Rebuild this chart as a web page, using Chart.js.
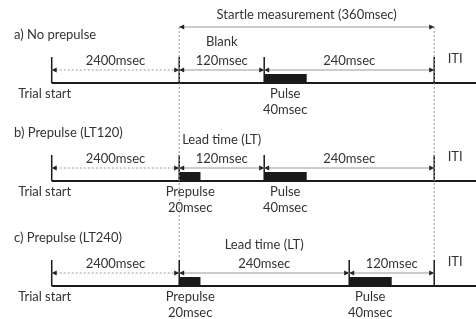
<!DOCTYPE html>
<html>
<head>
<meta charset="utf-8">
<script src="https://cdn.jsdelivr.net/npm/chart.js@4"></script>
<style>
html,body{margin:0;padding:0;background:#fff;}
#c{display:block;}
</style>
</head>
<body>
<canvas id="c" width="476" height="319"></canvas>
<script>
// ---- schematic data (x in diagram msec relative to stimulus window onset; pre-period is compressed) ----
const rowTitles = ['a) No prepulse', 'b) Prepulse (LT120)', 'c) Prepulse (LT240)'];
const rowBase = [83, 181, 286];              // vertical position of each timeline (schematic units)
const trialStart = -180;                      // drawn position of trial start (2400 msec, compressed)
const preLabel = ['2400msec', '2400msec', '2400msec'];
const prepulseOnset = [null, 0, 0];
const prepulseDrawnWidth = 30;
const prepulseText = ['', 'Prepulse', 'Prepulse'];
const prepulseDur = ['', '20msec', '20msec'];
const pulseOnset = [120, 120, 240];
const pulseDrawnWidth = 60;
const pulseText = ['Pulse', 'Pulse', 'Pulse'];
const pulseDur = ['40msec', '40msec', '40msec'];
const measureEnd = 360;
const firstGapLabel = ['120msec', '120msec', '240msec'];
const secondGapLabel = ['240msec', '240msec', '120msec'];
const upperLabel = ['Blank', 'Lead time (LT)', 'Lead time (LT)'];
const measureLabel = 'Startle measurement (360msec)';
const itiLabel = 'ITI';
const startLabel = 'Trial start';

const X_MIN = -253, X_MAX = 419;
const TOP_ARROW_Y = 27, GUIDE_END_Y = 259;

// ---- build datasets from the arrays ----
function segs(list){ // list of [[x1,y1],[x2,y2]] -> points separated by nulls
  const out = [];
  list.forEach((s,i)=>{ if(i) out.push({x:s[0][0], y:null}); out.push({x:s[0][0],y:s[0][1]}); out.push({x:s[1][0],y:s[1][1]}); });
  return out;
}
const baseSegs=[], tickSegs=[], barSegs=[], shaftSegs=[], dotSegs=[], guideSegs=[];
rowBase.forEach((b,r)=>{
  baseSegs.push([[trialStart,b],[X_MAX+5,b]]);
  const ticks=[trialStart,0,pulseOnset[r],measureEnd];
  ticks.forEach(t=>tickSegs.push([[t,b-26],[t,b]]));
  if(prepulseOnset[r]!==null) barSegs.push([[prepulseOnset[r],b-4.5],[prepulseOnset[r]+prepulseDrawnWidth,b-4.5]]);
  barSegs.push([[pulseOnset[r],b-4.5],[pulseOnset[r]+pulseDrawnWidth,b-4.5]]);
  dotSegs.push([[trialStart,b-13],[0,b-13]]);
  shaftSegs.push([[0,b-13],[pulseOnset[r],b-13]]);
  shaftSegs.push([[pulseOnset[r],b-13],[measureEnd,b-13]]);
});
shaftSegs.push([[0,TOP_ARROW_Y],[measureEnd,TOP_ARROW_Y]]);
guideSegs.push([[0,TOP_ARROW_Y],[0,GUIDE_END_Y]]);
guideSegs.push([[measureEnd,TOP_ARROW_Y],[measureEnd,GUIDE_END_Y]]);

function ds(data,color,width,dash,cap){
  return {data:segs(data),showLine:true,spanGaps:false,borderColor:color,borderWidth:width,
    borderDash:dash||[],borderCapStyle:cap||'butt',pointRadius:0,pointHoverRadius:0,tension:0,fill:false,clip:false};
}

const textPlugin = {
  id:'schematic',
  afterDatasetsDraw(chart){
    const ctx=chart.ctx, xs=chart.scales.x, ys=chart.scales.y;
    const X=v=>xs.getPixelForValue(v), Y=v=>ys.getPixelForValue(v);
    ctx.save();
    // arrowheads
    ctx.fillStyle='#222';
    function head(x,y,dir){ // dir +1 points right, -1 left
      const px=X(x), py=Y(y);
      ctx.beginPath(); ctx.moveTo(px,py); ctx.lineTo(px-dir*5,py-2.5); ctx.lineTo(px-dir*5,py+2.5); ctx.closePath(); ctx.fill();
    }
    head(0,TOP_ARROW_Y,-1); head(measureEnd,TOP_ARROW_Y,1);
    rowBase.forEach((b,r)=>{
      const ay=b-13;
      head(trialStart,ay,-1); head(0,ay,1);
      head(0,ay,-1); head(pulseOnset[r],ay,1);
      head(pulseOnset[r],ay,-1); head(measureEnd,ay,1);
    });
    // text
    ctx.fillStyle='#333';
    ctx.font='13px Lato, "Open Sans", sans-serif';
    ctx.textBaseline='middle';
    function t(s,x,y,align){ ctx.textAlign=align||'center'; ctx.fillText(s,x,y); }
    t(measureLabel,(X(0)+X(measureEnd))/2,Y(15));
    rowBase.forEach((b,r)=>{
      t(rowTitles[r],14,Y(b-48),'left');
      t(upperLabel[r],(X(0)+X(pulseOnset[r]))/2,Y(b-41));
      t(preLabel[r],(X(trialStart)+X(0))/2,Y(b-22));
      t(firstGapLabel[r],(X(0)+X(pulseOnset[r]))/2,Y(b-22));
      t(secondGapLabel[r],(X(pulseOnset[r])+X(measureEnd))/2,Y(b-22));
      t(itiLabel,X(measureEnd)+21,Y(b-24));
      t(startLabel,X(trialStart)-7,Y(b+11));
      if(prepulseText[r]){ t(prepulseText[r],X(0)+11,Y(b+11)); t(prepulseDur[r],X(0)+11,Y(b+27)); }
      t(pulseText[r],X(pulseOnset[r])+21,Y(b+11));
      t(pulseDur[r],X(pulseOnset[r])+21,Y(b+27));
    });
    ctx.restore();
  }
};

new Chart(document.getElementById('c'),{
  type:'scatter',
  data:{datasets:[
    ds(guideSegs,'#9a9a9a',1,[2,2]),
    ds(dotSegs,'#9a9a9a',1,[2,2]),
    ds(shaftSegs,'#9a9a9a',1),
    ds(baseSegs,'#1a1a1a',2),
    ds(tickSegs,'#1a1a1a',1.5),
    ds(barSegs,'#1a1a1a',9)
  ]},
  options:{
    responsive:false,animation:false,devicePixelRatio:1,
    layout:{padding:0},
    plugins:{legend:{display:false},tooltip:{enabled:false}},
    events:[],
    scales:{
      x:{type:'linear',min:X_MIN,max:X_MAX,display:false},
      y:{type:'linear',min:0,max:319,reverse:true,display:false}
    }
  },
  plugins:[textPlugin]
});
</script>
</body>
</html>
